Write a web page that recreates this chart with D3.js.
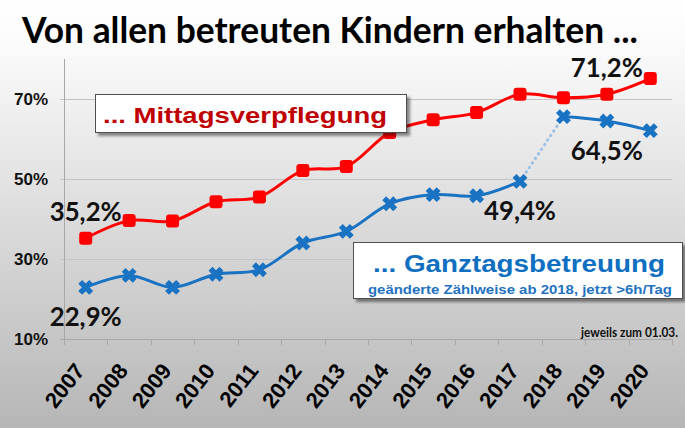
<!DOCTYPE html>
<html>
<head>
<meta charset="utf-8">
<script src="https://cdn.jsdelivr.net/npm/d3@7"></script>
<style>
	body { margin: 0; }
	svg { display: block; }
</style>
</head>
<body>
<div id="app"></div>
<script>
// data
const years = ['2007', '2008', '2009', '2010', '2011', '2012', '2013', '2014', '2015', '2016', '2017', '2018', '2019', '2020'];
const mittag = [35.2, 39.6, 39.5, 44.3, 45.5, 52.1, 53.1, 61.6, 64.8, 66.6, 71.2, 70.3, 71.2, 75.1];
const ganztag = [22.9, 25.9, 22.9, 26.2, 27.3, 34.0, 36.9, 43.8, 46.1, 45.8, 49.4, 65.6, 64.5, 62.1];
const yTicks = [10, 30, 50, 70];

// value labels: [series, year, text, above?]
const valueLabels = [
	['mittag', '2007', '35,2%', true],
	['ganztag', '2007', '22,9%', false],
	['ganztag', '2017', '49,4%', false],
	['ganztag', '2019', '64,5%', false],
	['mittag', '2019', '71,2%', true],
];

const W = 685;
const H = 428;
const RED = '#ff0000';
const BLUE = '#1a73c2';
const LABEL_FONT = 'Lato, "Open Sans", sans-serif';
const ARIAL = '"Liberation Sans", Arial, sans-serif';

const app = d3.select('div#app');
const svg = app.append('svg').attr('width', W).attr('height', H);

const defs = svg.append('defs');
const grad = defs
	.append('linearGradient')
	.attr('id', 'bg')
	.attr('x1', 0)
	.attr('y1', 0)
	.attr('x2', 0)
	.attr('y2', 1);
grad.append('stop').attr('offset', '0%').attr('stop-color', '#ffffff');
grad.append('stop').attr('offset', '12%').attr('stop-color', '#fafafa');
grad.append('stop').attr('offset', '100%').attr('stop-color', '#b6b6b6');

const shadow = defs
	.append('filter')
	.attr('id', 'shadow')
	.attr('x', '-10%')
	.attr('y', '-20%')
	.attr('width', '130%')
	.attr('height', '160%');
shadow
	.append('feDropShadow')
	.attr('dx', 3)
	.attr('dy', 3)
	.attr('stdDeviation', 1.5)
	.attr('flood-color', '#000')
	.attr('flood-opacity', 0.45);

svg.append('rect').attr('width', W).attr('height', H).attr('fill', 'url(#bg)');

// title
svg
	.append('text')
	.attr('x', 22)
	.attr('y', 43)
	.attr('font-family', LABEL_FONT)
	.attr('font-weight', 700)
	.attr('font-size', 36)
	.attr('textLength', 616)
	.attr('lengthAdjust', 'spacingAndGlyphs')
	.attr('fill', '#000')
	.text('Von allen betreuten Kindern erhalten ...');

// scales
const x = d3.scaleBand().domain(years).range([64, 672]).padding(0);
const y = d3.scaleLinear().domain([10, 80]).range([339, 59]);
const cx = (yr) => x(yr) + x.bandwidth() / 2;

// gridlines
svg
	.append('g')
	.selectAll('line')
	.data(yTicks.filter((t) => t !== 10))
	.join('line')
	.attr('x1', 60)
	.attr('x2', 672)
	.attr('y1', (d) => y(d) + 0.5)
	.attr('y2', (d) => y(d) + 0.5)
	.attr('stroke', '#c4c4c4')
	.attr('stroke-width', 1);

// y axis labels
svg
	.append('g')
	.selectAll('text')
	.data(yTicks)
	.join('text')
	.attr('x', 48)
	.attr('y', (d) => y(d) + 6)
	.attr('text-anchor', 'end')
	.attr('font-family', ARIAL)
	.attr('font-weight', 700)
	.attr('font-size', 17)
	.attr('fill', '#111')
	.text((d) => `${d}%`);

// axes lines
svg
	.append('line')
	.attr('x1', 64.5)
	.attr('x2', 64.5)
	.attr('y1', y(80))
	.attr('y2', y(10))
	.attr('stroke', '#a8a8a8');
svg
	.append('line')
	.attr('x1', 60)
	.attr('x2', 672)
	.attr('y1', y(10) + 0.5)
	.attr('y2', y(10) + 0.5)
	.attr('stroke', '#a8a8a8');

// x ticks between categories
const tickXs = years.map((yr) => x(yr)).concat([x.range()[1]]);
svg
	.append('g')
	.selectAll('line')
	.data(tickXs)
	.join('line')
	.attr('x1', (d) => Math.round(d) + 0.5)
	.attr('x2', (d) => Math.round(d) + 0.5)
	.attr('y1', y(10))
	.attr('y2', y(10) + 6)
	.attr('stroke', '#a8a8a8');

// x labels, rotated
svg
	.append('g')
	.selectAll('text')
	.data(years)
	.join('text')
	.attr('transform', (d) => `translate(${cx(d)}, 371) rotate(-52)`)
	.attr('text-anchor', 'end')
	.attr('font-family', ARIAL)
	.attr('font-weight', 700)
	.attr('font-size', 22)
	.attr('fill', '#000')
	.text((d) => d);

// note
svg
	.append('text')
	.attr('x', 678)
	.attr('y', 336.5)
	.attr('text-anchor', 'end')
	.attr('font-family', LABEL_FONT)
	.attr('font-weight', 700)
	.attr('font-size', 12.5)
	.attr('textLength', 97)
	.attr('lengthAdjust', 'spacingAndGlyphs')
	.attr('fill', '#111')
	.text('jeweils zum 01.03.');

const curve = d3.curveCatmullRom.alpha(0.5);
const line = d3
	.line()
	.x((d) => cx(d.year))
	.y((d) => y(d.value))
	.curve(curve);

const redData = years.map((yr, i) => ({ year: yr, value: mittag[i] }));
const blueData = years.map((yr, i) => ({ year: yr, value: ganztag[i] }));

// blue series: solid up to 2017, dotted change, solid from 2018
const breakIdx = years.indexOf('2018');
svg
	.append('path')
	.attr('d', line.curve(d3.curveLinear)(blueData.slice(breakIdx - 1, breakIdx + 1)))
	.attr('fill', 'none')
	.attr('stroke', '#9cc0e4')
	.attr('stroke-width', 3)
	.attr('stroke-linecap', 'round')
	.attr('stroke-dasharray', '0.5,5');
line.curve(curve);
[blueData.slice(0, breakIdx), blueData.slice(breakIdx)].forEach((seg) => {
	svg
		.append('path')
		.attr('d', line(seg))
		.attr('fill', 'none')
		.attr('stroke', BLUE)
		.attr('stroke-width', 3);
});

svg
	.append('g')
	.selectAll('path')
	.data(blueData)
	.join('path')
	.attr('transform', (d) => `translate(${cx(d.year)}, ${y(d.value)})`)
	.attr('d', 'M-5.5,-5.5L5.5,5.5M-5.5,5.5L5.5,-5.5')
	.attr('stroke', BLUE)
	.attr('stroke-width', 5.5)
	.attr('fill', 'none');

// red series
svg
	.append('path')
	.attr('d', line(redData))
	.attr('fill', 'none')
	.attr('stroke', RED)
	.attr('stroke-width', 3);

svg
	.append('g')
	.selectAll('rect')
	.data(redData)
	.join('rect')
	.attr('x', (d) => cx(d.year) - 6.5)
	.attr('y', (d) => y(d.value) - 6.5)
	.attr('width', 13)
	.attr('height', 13)
	.attr('rx', 3)
	.attr('fill', RED);

// value labels
const seriesValue = { mittag, ganztag };
svg
	.append('g')
	.selectAll('text')
	.data(valueLabels)
	.join('text')
	.attr('x', (d) => cx(d[1]))
	.attr('y', (d) => y(seriesValue[d[0]][years.indexOf(d[1])]) + (d[3] ? -17 : 39))
	.attr('text-anchor', 'middle')
	.attr('font-family', LABEL_FONT)
	.attr('font-weight', 700)
	.attr('font-size', 27)
	.attr('textLength', 72)
	.attr('lengthAdjust', 'spacingAndGlyphs')
	.attr('fill', '#111')
	.text((d) => d[2]);

// legend boxes
const redBox = svg.append('g');
redBox
	.append('rect')
	.attr('x', 95.5)
	.attr('y', 94.5)
	.attr('width', 311)
	.attr('height', 38)
	.attr('fill', '#fff')
	.attr('stroke', '#505050')
	.attr('filter', 'url(#shadow)');
redBox
	.append('text')
	.attr('x', 103)
	.attr('y', 123)
	.attr('font-family', ARIAL)
	.attr('font-weight', 700)
	.attr('font-size', 22)
	.attr('textLength', 284)
	.attr('lengthAdjust', 'spacingAndGlyphs')
	.attr('fill', '#c00000')
	.text('... Mittagsverpflegung');

const blueBox = svg.append('g');
blueBox
	.append('rect')
	.attr('x', 353.5)
	.attr('y', 242.5)
	.attr('width', 329)
	.attr('height', 56)
	.attr('fill', '#fff')
	.attr('stroke', '#505050')
	.attr('filter', 'url(#shadow)');
blueBox
	.append('text')
	.attr('x', 373)
	.attr('y', 272)
	.attr('font-family', ARIAL)
	.attr('font-weight', 700)
	.attr('font-size', 23)
	.attr('textLength', 292)
	.attr('lengthAdjust', 'spacingAndGlyphs')
	.attr('fill', '#0f6fc0')
	.text('... Ganztagsbetreuung');
blueBox
	.append('text')
	.attr('x', 368)
	.attr('y', 294)
	.attr('font-family', ARIAL)
	.attr('font-weight', 700)
	.attr('font-size', 13.5)
	.attr('textLength', 304)
	.attr('lengthAdjust', 'spacingAndGlyphs')
	.attr('fill', '#1f72c0')
	.text('geänderte Zählweise ab 2018, jetzt >6h/Tag');
</script>
</body>
</html>
